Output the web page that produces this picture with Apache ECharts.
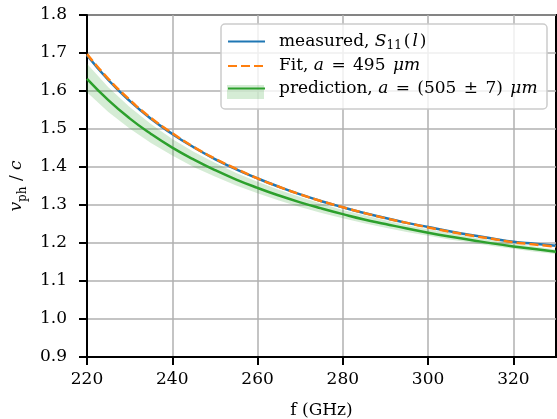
<!DOCTYPE html>
<html>
<head>
<meta charset="utf-8">
<script src="https://cdn.jsdelivr.net/npm/echarts@6/dist/echarts.min.js"></script>
<style>html,body{margin:0;padding:0;background:#fff}#c{width:557px;height:419px}</style>
</head>
<body>
<div id="c"></div>
<script>
// Frequencies (GHz)
var freq = [220,225,230,235,240,245,250,255,260,265,270,275,280,285,290,295,300,305,310,315,320,325,330];
// measured, S11(l)
var measured = [1.694,1.629,1.574,1.527,1.487,1.452,1.421,1.394,1.370,1.348,1.328,1.310,1.294,1.279,1.266,1.253,1.242,1.231,1.221,1.212,1.203,1.198,1.193];
// Fit, a = 495 um
var fit = [1.697,1.632,1.577,1.529,1.489,1.453,1.422,1.395,1.370,1.348,1.328,1.310,1.294,1.279,1.265,1.253,1.241,1.230,1.220,1.211,1.202,1.196,1.190];
// prediction, a = (505 +/- 7) um
var prediction = [1.632,1.576,1.528,1.487,1.451,1.420,1.392,1.367,1.345,1.325,1.307,1.291,1.276,1.262,1.250,1.238,1.227,1.217,1.208,1.199,1.191,1.184,1.177];
// uncertainty band (same frequencies)
var bandLow  = [1.597,1.545,1.501,1.463,1.430,1.400,1.375,1.351,1.331,1.312,1.295,1.279,1.265,1.252,1.240,1.229,1.219,1.209,1.201,1.192,1.185,1.177,1.171];
var bandHigh = [1.672,1.610,1.558,1.513,1.474,1.440,1.411,1.384,1.361,1.340,1.321,1.303,1.287,1.273,1.260,1.247,1.236,1.226,1.216,1.207,1.198,1.191,1.183];
// ticks
var xTicks = [220,240,260,280,300,320];
var yTicks = [0.9,1.0,1.1,1.2,1.3,1.4,1.5,1.6,1.7,1.8];

function pairs(xs, ys){ return xs.map(function(x,i){ return [x, ys[i]]; }); }
var bandData = freq.map(function(f,i){ return [f, bandLow[i], bandHigh[i]]; });

var FONT = 'DejaVu Serif';
var FS = 17;
var richStyles = {
  n: {fontFamily: FONT, fontSize: FS, color: '#000', lineHeight: 20},
  i: {fontFamily: FONT, fontSize: FS, fontStyle: 'italic', color: '#000', lineHeight: 20},
  s: {fontFamily: FONT, fontSize: 12, color: '#000', verticalAlign: 'bottom', lineHeight: 24},
  sn: {fontFamily: FONT, fontSize: 12, color: '#000', padding: [9,0,0,0], lineHeight: 20},
  sp: {width: 9, lineHeight: 20},
  th: {width: 2, lineHeight: 20}
};
var legendLabels = {
  'measured': '{sp|}{n|measured, }{i|S}{sn|11}{th|}{n|(}{th|}{i|l}{th|}{n|)}',
  'fit': '{sp|}{n|Fit, }{i|a}{th|}{n| = }{th|}{n|495 }{th|}{i|μm}',
  'prediction': '{sp|}{n|prediction, }{i|a}{th|}{n| = }{th|}{n|(505 }{th|}{n|± }{th|}{n|7) }{th|}{i|μm}'
};

var chart = echarts.init(document.getElementById('c'), null, {renderer: 'canvas'});
chart.setOption({
  animation: false,
  backgroundColor: '#fff',
  grid: {left: 87, right: 1, top: 15, bottom: 62, show: true, borderColor: '#000', borderWidth: 2,
         backgroundColor: 'transparent', outerBoundsMode: 'none', containLabel: false},
  xAxis: {
    type: 'value', min: 220, max: 330, interval: 20,
    name: 'f (GHz)', nameLocation: 'middle', nameGap: 45,
    nameTextStyle: {fontFamily: FONT, fontSize: FS, color: '#000'},
    axisLine: {show: true, lineStyle: {color: '#000', width: 2}},
    axisTick: {show: true, length: 8, lineStyle: {color: '#000', width: 2}, customValues: xTicks},
    axisLabel: {fontFamily: FONT, fontSize: FS, color: '#000', margin: 14, customValues: xTicks},
    splitLine: {show: true, lineStyle: {color: '#b0b0b0', width: 1.5}}
  },
  yAxis: {
    type: 'value', min: 0.9, max: 1.8, interval: 0.1,
    name: '{i|v}{s|ph}{n| / }{i|c}', nameLocation: 'middle', nameGap: 53, nameRotate: 90,
    nameTextStyle: {fontFamily: FONT, fontSize: FS, color: '#000', rich: richStyles},
    axisLine: {show: true, lineStyle: {color: '#000', width: 2}},
    axisTick: {show: true, length: 8, lineStyle: {color: '#000', width: 2}, customValues: yTicks},
    axisLabel: {fontFamily: FONT, fontSize: FS, color: '#000', margin: 20, customValues: yTicks,
      formatter: function(v){ return (+v).toFixed(1); }},
    splitLine: {show: true, lineStyle: {color: '#b0b0b0', width: 1.5}}
  },
  legend: {
    orient: 'vertical', left: 221, top: 24, padding: [7, 8, 8, 6],
    itemWidth: 37, itemHeight: 14, itemGap: 5.5, z: 5,
    itemStyle: {opacity: 0},
    data: ['measured', 'fit', 'prediction'],
    formatter: function(name){ return legendLabels[name]; },
    textStyle: {fontFamily: FONT, fontSize: FS, color: '#000', rich: richStyles},
    selectedMode: false
  },
  graphic: [
    {type: 'rect', z: 3, shape: {x: 221, y: 24, width: 326, height: 85, r: 4},
     style: {fill: 'rgba(255,255,255,0.8)', stroke: '#cccccc', lineWidth: 1.5}},
    {type: 'rect', z: 3, shape: {x: 227, y: 85, width: 37, height: 14},
     style: {fill: 'rgba(44,160,44,0.2)'}}
  ],
  series: [
    {name: 'band', type: 'custom', data: bandData, silent: true, z: 1,
     encode: {x: 0, y: [1, 2]},
     renderItem: function(params, api){
       if (params.dataIndex !== 0) return null;
       var pts = [];
       for (var k = 0; k < bandData.length; k++) pts.push(api.coord([bandData[k][0], bandData[k][2]]));
       for (var k2 = bandData.length - 1; k2 >= 0; k2--) pts.push(api.coord([bandData[k2][0], bandData[k2][1]]));
       return {type: 'polygon', shape: {points: pts}, style: {fill: 'rgba(44,160,44,0.2)', stroke: null}};
     }},
    {name: 'measured', type: 'line', data: pairs(freq, measured), smooth: true, symbol: 'none',
     lineStyle: {color: '#1f77b4', width: 2.5}, itemStyle: {color: '#1f77b4'}, z: 2},
    {name: 'fit', type: 'line', data: pairs(freq, fit), smooth: true, symbol: 'none',
     lineStyle: {color: '#ff7f0e', width: 2.5, type: [9, 4]}, itemStyle: {color: '#ff7f0e'}, z: 2},
    {name: 'prediction', type: 'line', data: pairs(freq, prediction), smooth: true, symbol: 'none',
     lineStyle: {color: '#2ca02c', width: 2.5}, itemStyle: {color: '#2ca02c'}, z: 2}
  ]
});
</script>
</body>
</html>
